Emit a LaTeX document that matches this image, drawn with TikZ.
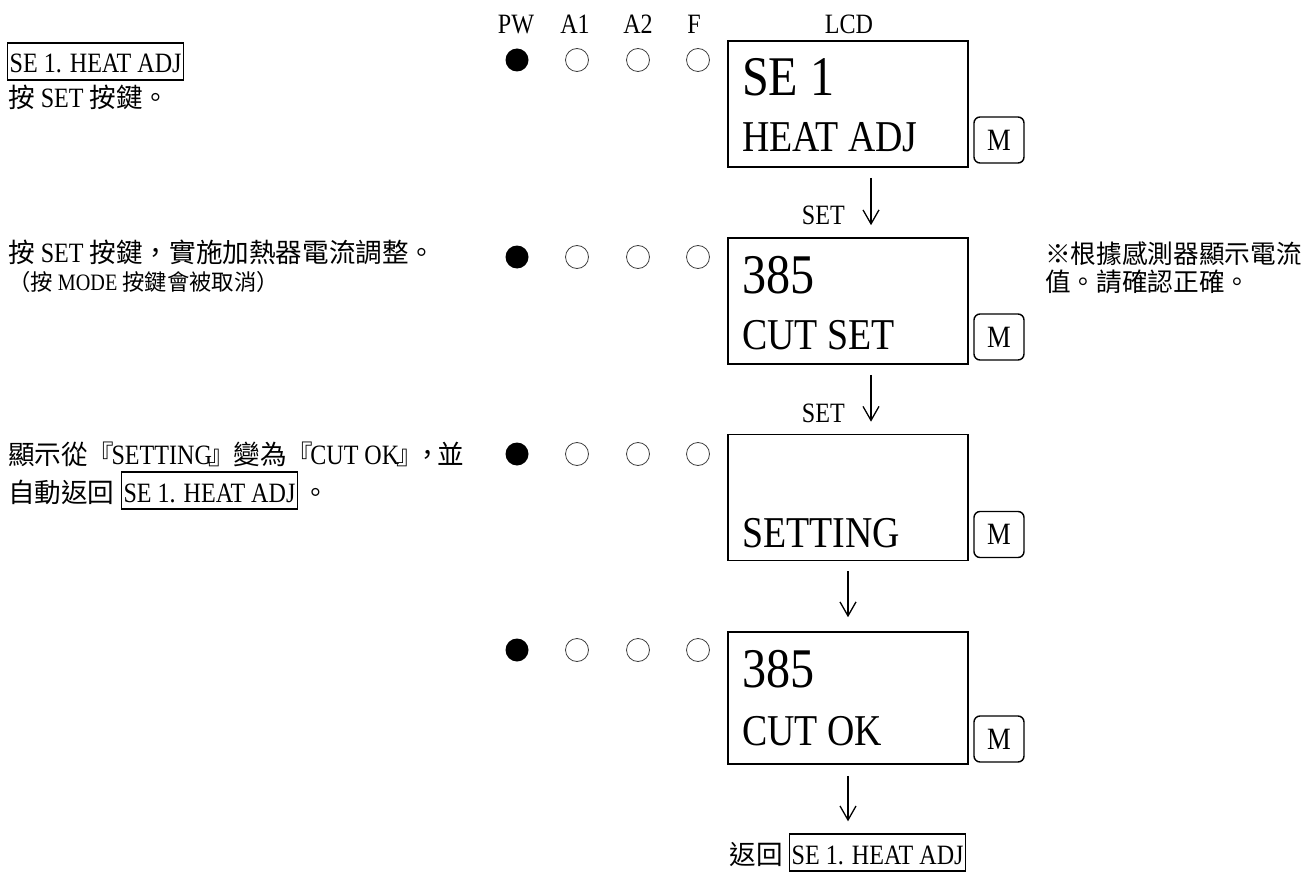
\documentclass[tikz,border=0pt]{standalone}
\usepackage{fontspec}
\setmainfont{Liberation Serif}[FakeStretch=0.86]
\newfontfamily\cjk{Noto Sans CJK TC}[Scale=0.95]
\usetikzlibrary{arrows.meta}
\newcommand\fs[1]{\fontsize{#1}{#1}\selectfont}
\begin{document}
\begin{tikzpicture}[x=1pt,y=-1pt,
  txt/.style={inner sep=0pt, font=\fs{28}},
  lbox/.style={draw, line width=1.4pt, inner xsep=2pt, inner ysep=2pt, text height=28pt, text depth=5pt, font=\fs{28}},
  lcd/.style={draw, line width=1.6pt, minimum width=240pt, minimum height=126pt, inner sep=0pt},
  mbtn/.style={draw, line width=1.4pt, rounded corners=6pt, minimum width=50pt, minimum height=46pt, inner sep=0pt, font=\fs{31}},
  led/.style={circle, minimum size=23pt, inner sep=0pt},
  ledon/.style={led, fill=black},
  ledoff/.style={led, draw=black!75, line width=0.8pt},
  flow/.style={line width=1.3pt, -{Straight Barb[length=14pt,width=16pt]}},
  big/.style={inner sep=0pt, anchor=base west, font=\fs{56}},
  mid/.style={inner sep=0pt, anchor=base west, font=\fs{44}}]
\useasboundingbox (0,0) rectangle (1310,872);

% header
\node[txt, anchor=base] (hpw) at (516,34) {PW};
\node[txt, anchor=base] (ha1) at (575,34) {A1};
\node[txt, anchor=base] (ha2) at (638,34) {A2};
\node[txt, anchor=base] (hf) at (694,34) {F};
\node[txt, anchor=base] (hlcd) at (849,34) {LCD};

% LEDs
\foreach \r/\y in {1/60,2/257,3/454,4/650} {
  \node[ledon] (pw\r) at (517,\y) {};
  \node[ledoff] (aa\r) at (577,\y) {};
  \node[ledoff] (ab\r) at (638,\y) {};
  \node[ledoff] (ff\r) at (698,\y) {};
}

% LCD boxes
\node[lcd] (lcd1) at (848,104) {};
\node[lcd] (lcd2) at (848,301) {};
\node[lcd] (lcd3) at (848,497.5) {};
\node[lcd, minimum height=132pt] (lcd4) at (848,698) {};

\node[big] (l1a) at (742,96) {SE 1};
\node[mid] (l1b) at (742,152) {HEAT ADJ};
\node[big] (l2a) at (742,293) {385};
\node[mid] (l2b) at (742,349) {CUT SET};
\node[mid] (l3b) at (742,547) {SETTING};
\node[big] (l4a) at (742,687) {385};
\node[mid] (l4b) at (742,745) {CUT OK};

% M buttons
\node[mbtn] (m1) at (999,140) {M};
\node[mbtn] (m2) at (999,337) {M};
\node[mbtn] (m3) at (999,534.5) {M};
\node[mbtn] (m4) at (999,739) {M};

% arrows
\draw[flow, shorten <=10pt, shorten >=12pt] ([xshift=23pt]lcd1.south) -- ([xshift=23pt]lcd2.north);
\node[txt, anchor=base east] (s1) at (845,225) {SET};
\draw[flow, shorten <=10pt, shorten >=12pt] ([xshift=23pt]lcd2.south) -- ([xshift=23pt]lcd3.north);
\node[txt, anchor=base east] (s2) at (845,422) {SET};
\draw[flow, shorten <=10pt, shorten >=14pt] (lcd3.south) -- (lcd4.north);

% bottom return
\node[lbox, anchor=base west] (rb) at (789,864) {SE 1. HEAT ADJ};
\node[txt, anchor=base east] (rt) at ([xshift=-6pt]rb.base west) {\cjk 返回};
\draw[flow, shorten <=11pt, shorten >=12pt] (lcd4.south) -- (lcd4.south |- rb.north);

% left texts
\node[lbox, anchor=base west] (lb1) at (7,73) {SE 1. HEAT ADJ};
\node[txt, anchor=base west] (lt1) at (8,108) {{\cjk 按} SET {\cjk 按鍵。}};

\node[txt, anchor=base west] (lt2) at (8,262) {{\cjk 按} SET {\cjk 按鍵，實施加熱器電流調整。}};
\node[txt, anchor=base west, font=\fs{23.5}] (lt2b) at (8,290) {{\cjk （按} MODE {\cjk 按鍵會被取消）}};

\node[txt, anchor=base west, font=\fs{27}] (rt2a) at (1045,263) {\cjk ※根據感測器顯示電流};
\node[txt, anchor=base west, font=\fs{27}] (rt2b) at (1045,291) {\cjk 值。請確認正確。};

\node[txt, anchor=base west] (lt3) at (8,464) {{\cjk 顯示從『\kern-3pt}SETTING{\cjk \kern-3pt』\kern-2pt 變為『\kern-3pt}CUT OK{\cjk \kern-3pt』\kern-8pt，\kern-4pt 並}};
\node[txt, anchor=base west] (lt3b) at (8,502) {\cjk 自動返回};
\node[lbox, anchor=base west] (lb3) at ([xshift=6pt]lt3b.base east) {SE 1. HEAT ADJ};
\node[txt, anchor=base west] (lt3c) at ([xshift=4pt]lb3.base east) {\cjk 。};
\end{tikzpicture}
\end{document}
